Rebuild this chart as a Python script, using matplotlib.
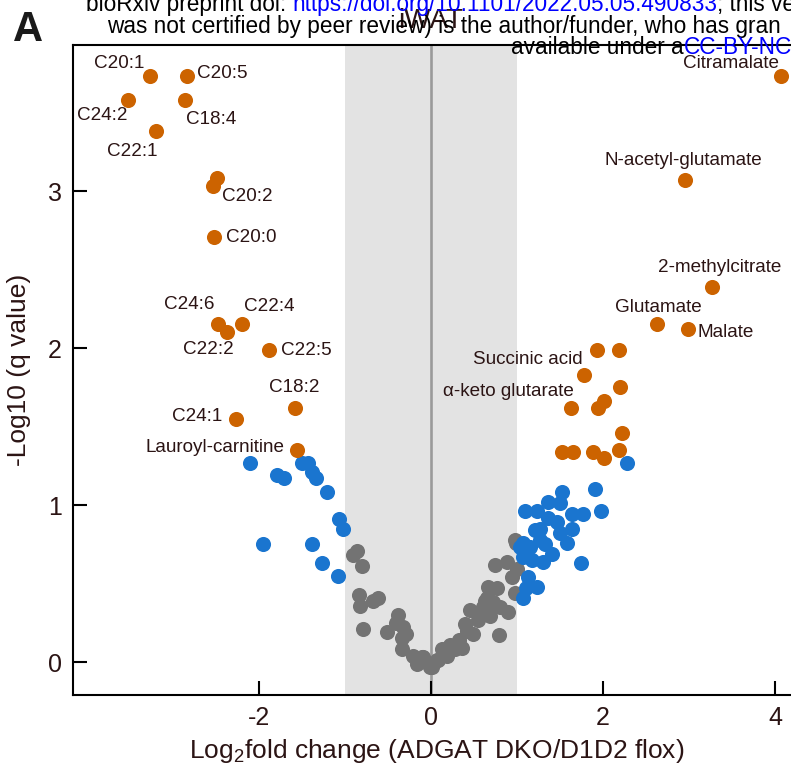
import matplotlib
matplotlib.use('Agg')
import matplotlib.pyplot as plt
import numpy as np

# significant and labelled (orange)
up_names = ['C20:1', 'C20:5', 'C24:2', 'C18:4', 'C22:1', 'C20:2', '', 'C20:0',
            'C24:6', 'C22:2', 'C22:4', 'C22:5', 'C18:2', 'C24:1',
            'Lauroyl-carnitine',
            'Citramalate', 'N-acetyl-glutamate', '2-methylcitrate',
            'Glutamate', 'Malate', '', '', 'Succinic acid', '',
            'α-keto glutarate', '', '', '', '', '', '', '', '']
up_x = [-3.27, -2.84, -3.52, -2.86, -3.19, -2.53, -2.49, -2.52,
        -2.48, -2.37, -2.20, -1.88, -1.58, -2.26,
        -1.56,
        4.07, 2.95, 3.27,
        2.63, 2.99, 1.93, 2.19, 1.78, 2.20,
        1.63, 1.94, 2.01, 2.22, 1.52, 1.65, 1.88, 2.01, 2.19]
up_y = [3.73, 3.73, 3.58, 3.58, 3.38, 3.03, 3.08, 2.71,
        2.15, 2.10, 2.15, 1.99, 1.62, 1.55,
        1.35,
        3.73, 3.07, 2.39,
        2.15, 2.12, 1.99, 1.99, 1.83, 1.75,
        1.62, 1.62, 1.66, 1.46, 1.34, 1.34, 1.34, 1.30, 1.35]

# fold change but q not significant enough (blue)
mid_x = [-2.10, -1.79, -1.71, -1.50, -1.43, -1.38, -1.34, -1.21, -1.07, -1.02,
         -1.95, -1.38, -1.27, -1.08,
         2.28, 1.09, 1.23, 1.36, 1.52, 1.50, 1.64, 1.77, 1.91, 1.98,
         1.27, 1.47, 1.50, 1.64, 1.58, 1.36, 1.07, 1.15, 1.27, 1.33,
         1.41, 1.30, 1.17, 1.07, 1.74, 1.13, 1.23, 1.07, 1.10, 1.03, 1.21]
mid_y = [1.27, 1.19, 1.17, 1.27, 1.27, 1.21, 1.17, 1.08, 0.91, 0.85,
         0.75, 0.75, 0.63, 0.55,
         1.27, 0.96, 0.96, 1.02, 1.08, 1.01, 0.94, 0.94, 1.10, 0.96,
         0.85, 0.89, 0.82, 0.85, 0.76, 0.92, 0.76, 0.73, 0.78, 0.75,
         0.69, 0.64, 0.65, 0.67, 0.63, 0.54, 0.48, 0.41, 0.47, 0.73, 0.84]

# not changed (grey)
ns_x = [-0.86, -0.91, -0.80, -0.84, -0.83, -0.67, -0.62, -0.79, -0.38, -0.41,
        -0.51, -0.33, -0.29, -0.34, -0.34, -0.21, -0.10, -0.16, -0.01, 0.07,
        -0.09, 0.01, 0.08, 0.19, 0.28, 0.36, 0.33, 0.42, 0.40, 0.49,
        0.45, 0.55, 0.65, 0.66, 0.77, 0.69, 0.80, 0.90, 0.98, 0.94,
        1.00, 0.74, 0.88, 0.98, 0.99, 0.79, 0.72, 0.60, 0.13, 0.22,
        0.55, 0.63]
ns_y = [0.71, 0.68, 0.61, 0.43, 0.36, 0.39, 0.41, 0.21, 0.30, 0.25,
        0.19, 0.22, 0.18, 0.15, 0.08, 0.04, 0.03, -0.01, -0.03, 0.01,
        0.03, -0.03, 0.01, 0.04, 0.08, 0.09, 0.14, 0.20, 0.24, 0.18,
        0.33, 0.31, 0.41, 0.48, 0.47, 0.29, 0.35, 0.32, 0.44, 0.54,
        0.59, 0.62, 0.64, 0.78, 0.76, 0.17, 0.38, 0.35, 0.08, 0.11,
        0.27, 0.39]

x_ticks = [-2, 0, 2, 4]
y_ticks = [0, 1, 2, 3]

# label placement: name -> (dx px, dy px, ha)
label_pos = {
    'C20:1': (-30, 13, 'center'), 'C20:5': (10, 3, 'left'),
    'C24:2': (-26, -16, 'center'), 'C18:4': (26, -20, 'center'),
    'C22:1': (-24, -20, 'center'), 'C20:2': (9, -10, 'left'),
    'C20:0': (12, -1, 'left'), 'C24:6': (-28, 20, 'center'),
    'C22:4': (28, 18, 'center'), 'C22:2': (-19, -17, 'center'),
    'C22:5': (12, -1, 'left'), 'C18:2': (-1, 20, 'center'),
    'C24:1': (-14, 2, 'right'), 'Lauroyl-carnitine': (-12, 3, 'right'),
    'Citramalate': (-50, 13, 'center'), 'N-acetyl-glutamate': (-1, 20, 'center'),
    '2-methylcitrate': (7, 19, 'center'), 'Glutamate': (1, 17, 'center'),
    'Malate': (9, -3, 'left'), 'Succinic acid': (-2, 15, 'right'),
    'α-keto glutarate': (3, 16, 'right'),
}

TXT = '#2b1414'


def chain(fig, x0, y0, parts, size, right=False):
    """Write text pieces one after another (in pixels from top left)"""
    r = fig.canvas.get_renderer()
    x = x0
    seq = parts[::-1] if right else parts
    for s, c in seq:
        t = fig.text(x / 791, 1 - y0 / 771, s, color=c, fontsize=size,
                     va='center', ha='right' if right else 'left')
        bb = t.get_window_extent(r)
        x = bb.x0 if right else bb.x1


def main():
    plt.rcParams['font.family'] = ['Liberation Sans', 'DejaVu Sans']
    plt.rcParams['mathtext.default'] = 'regular'
    plt.rcParams['axes.unicode_minus'] = False
    fig = plt.figure(figsize=(7.91, 7.71), dpi=100)
    ax = fig.add_axes([73 / 791, 1 - 695 / 771, 728 / 791, 650 / 771])
    ax.set_xlim(-4.16, 4.30)
    ax.set_ylim(-0.21, 3.93)

    # grey band and zero line
    ax.axvspan(-1, 1, color='#e3e3e3', lw=0, zorder=0)
    ax.axvline(0, color='#9a9a9a', lw=1.9, zorder=1)

    ax.scatter(ns_x, ns_y, s=118, color='#737373', lw=0, zorder=2)
    ax.scatter(mid_x, mid_y, s=118, color='#1a75cf', lw=0, zorder=3)
    ax.scatter(up_x, up_y, s=118, color='#cc6300', lw=0, zorder=4)

    for name, x, y in zip(up_names, up_x, up_y):
        if not name:
            continue
        dx, dy, ha = label_pos[name]
        ax.annotate(name, (x, y), xytext=(dx, dy), textcoords='offset pixels',
                    ha=ha, va='center', fontsize=13.6, color=TXT, zorder=5)

    ax.set_xticks(x_ticks)
    ax.set_yticks(y_ticks)
    ax.tick_params(direction='in', length=10, width=1.5, labelsize=18,
                   labelcolor=TXT, pad=8)
    for s in ['left', 'bottom', 'top', 'right']:
        ax.spines[s].set_linewidth(1.5)
    ax.set_xlabel(r'Log$_2$fold change (ADGAT DKO/D1D2 flox)', fontsize=19,
                  color=TXT, labelpad=5)
    ax.set_ylabel('-Log10 (q value)', fontsize=19, color=TXT, labelpad=12)

    # title and panel letter
    fig.text(431 / 791, 1 - 21 / 771, 'iWAT', ha='center', va='center',
             fontsize=20, color=TXT)
    fig.text(28 / 791, 1 - 30 / 771, 'A', ha='center', va='center',
             fontsize=30, fontweight='bold', color='#1a1a1a')

    # bioRxiv watermark
    wsz = 16.3
    chain(fig, 86, 5, [('bioRxiv preprint doi: ', 'black'),
                       ('https://doi.org/10.1101/2022.05.05.490833', 'blue'),
                       ('; this ve', 'black')], wsz)
    chain(fig, 107, 27, [('was not certified by peer review) is the '
                          'author/funder, who has gran', 'black')], wsz)
    chain(fig, 792, 47, [('available under a', 'black'),
                         ('CC-BY-NC', 'blue')], wsz, right=True)

    fig.savefig('out.png', dpi=100)


if __name__ == "__main__":
    main()
